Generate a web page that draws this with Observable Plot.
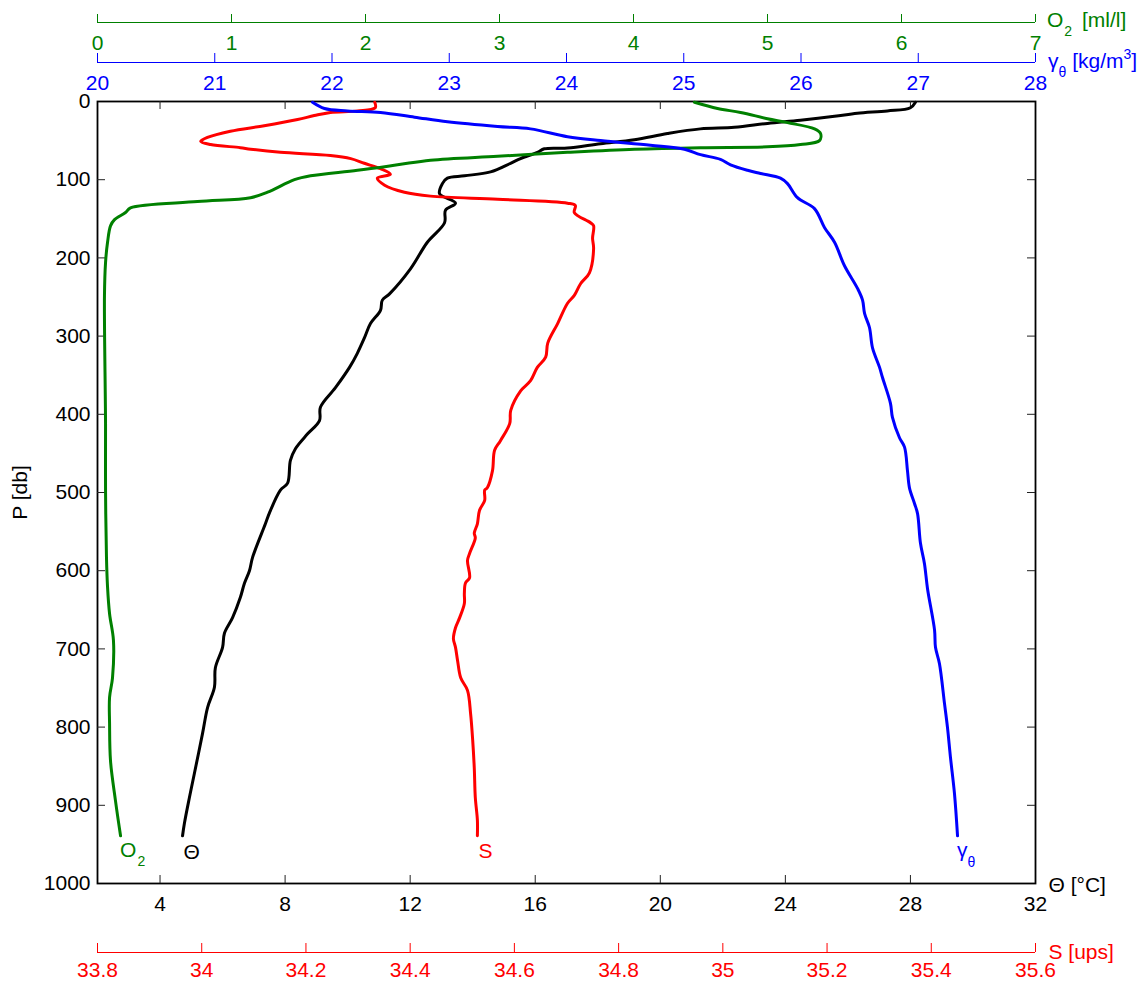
<!DOCTYPE html>
<html><head><meta charset="utf-8">
<script src="https://cdn.jsdelivr.net/npm/d3@7"></script>
<script src="https://cdn.jsdelivr.net/npm/@observablehq/plot@0.6"></script>
<style>
html,body{margin:0;padding:0;background:#fff;overflow:hidden;}
#chart{position:relative;width:1146px;height:982px;}
#chart svg{position:absolute;left:0;top:0;}
</style></head><body><div id="chart"></div>
<script>
// [pressure (db), potential temperature (°C)]
const thetaProfile = [[1,28.16],[8,28.0],[12,27.26],[15,26.30],[19,25.57],[24,24.48],[28,23.43],[33,22.37],[35,21.28],[41,20.23],[49,19.17],[54,18.09],[59.5,17.03],[60.5,16.29],[65,16.07],[73,15.53],[79,15.21],[90,14.57],[95,13.74],[98,13.19],[105,13.03],[118,12.94],[130,13.45],[139,13.13],[155,13.10],[180,12.55],[214,12.01],[246,11.34],[254,11.11],[267,11.05],[284,10.73],[302,10.54],[322,10.31],[340,10.06],[366,9.61],[391,9.13],[408,9.10],[425,8.72],[444,8.33],[459,8.17],[488,8.08],[497,7.85],[526,7.50],[540,7.37],[583,6.96],[600,6.86],[616,6.70],[634,6.57],[660,6.32],[680,6.06],[698,6.00],[724,5.77],[749,5.74],[775,5.52],[808,5.36],[859,5.10],[890,4.94],[923,4.78],[939,4.72]];
// [pressure, salinity (ups)]
const salinityProfile = [[1,34.332],[8,34.333],[12,34.299],[14,34.247],[18,34.216],[23,34.184],[31,34.120],[38,34.055],[46,34.011],[51,33.998],[55,34.017],[59,34.074],[61,34.094],[65,34.151],[69,34.247],[73,34.286],[79,34.312],[86,34.343],[93,34.362],[98,34.337],[107,34.351],[116,34.389],[121,34.439],[125,34.568],[130,34.702],[133,34.717],[142,34.715],[155,34.746],[159,34.752],[175,34.750],[188,34.752],[219,34.744],[233,34.727],[248,34.715],[258,34.702],[284,34.683],[309,34.664],[327,34.660],[340,34.644],[357,34.631],[370,34.612],[395,34.593],[412,34.591],[434,34.573],[446,34.562],[472,34.558],[494,34.548],[497,34.543],[510,34.543],[523,34.533],[540,34.529],[552,34.523],[558,34.525],[578,34.514],[587,34.510],[609,34.514],[616,34.506],[629,34.504],[642,34.504],[660,34.495],[673,34.487],[687,34.483],[698,34.487],[715,34.491],[737,34.497],[753,34.510],[783,34.516],[817,34.520],[852,34.523],[890,34.525],[919,34.529],[939,34.529]];
// [pressure, oxygen (ml/l)]
const oxygenProfile = [[1,4.455],[9,4.627],[14,4.799],[22,5.000],[27,5.149],[35,5.351],[41,5.396],[50,5.388],[55,5.246],[58,5.000],[59,4.500],[61,4.007],[65,3.507],[70,2.985],[75,2.485],[81,2.239],[88,1.940],[95,1.590],[100,1.470],[116,1.269],[123,1.142],[128,0.746],[136,0.246],[142,0.209],[151,0.127],[159,0.097],[180,0.075],[206,0.060],[248,0.052],[412,0.060],[497,0.060],[583,0.067],[621,0.075],[655,0.090],[689,0.119],[737,0.112],[762,0.090],[795,0.090],[843,0.097],[894,0.134],[939,0.172]];
// [pressure, gamma_theta (kg/m3)]
const gammaProfile = [[1,21.834],[9,21.936],[12,22.132],[14,22.414],[20,22.704],[26,22.985],[32,23.412],[35,23.693],[45,24.009],[50,24.290],[56,24.716],[61,25.006],[68,25.143],[74,25.313],[81,25.399],[88,25.544],[92,25.655],[98,25.825],[105,25.885],[123,25.970],[137,26.115],[161,26.200],[180,26.286],[210,26.371],[239,26.482],[254,26.525],[271,26.542],[289,26.584],[315,26.610],[340,26.670],[353,26.695],[386,26.763],[404,26.780],[430,26.840],[442,26.883],[472,26.908],[494,26.925],[514,26.968],[527,26.994],[565,27.019],[591,27.053],[623,27.079],[676,27.139],[698,27.147],[719,27.181],[770,27.224],[800,27.249],[839,27.275],[885,27.309],[939,27.335]];

const thetaTicks = [4, 8, 12, 16, 20, 24, 28, 32];
const thetaInnerTicks = [4, 8, 12, 16, 20, 24, 28];
const pressureTicks = [0, 100, 200, 300, 400, 500, 600, 700, 800, 900, 1000];
const pressureInnerTicks = [100, 200, 300, 400, 500, 600, 700, 800, 900];
const salinityTicks = [33.8, 34, 34.2, 34.4, 34.6, 34.8, 35, 35.2, 35.4, 35.6];
const oxygenTicks = [0, 1, 2, 3, 4, 5, 6, 7];
const gammaTicks = [20, 21, 22, 23, 24, 25, 26, 27, 28];

const thetaDomain = [2, 32], salinityDomain = [33.8, 35.6], oxygenDomain = [0, 7], gammaDomain = [20, 28];

const FONT = "'Liberation Sans', Arial, Helvetica, sans-serif";
const W = 1146, H = 982, MT = 101, MB = 99, ML = 97, MR = 111;
const FW = W - ML - MR, FH = H - MT - MB;
const GREEN = "#008000", BLUE = "#0000ff", RED = "#ff0000";
const CURVE = "catmull-rom";
const toRows = a => a.map(([p, v]) => ({p, v}));

function layer(xDomain, marks, base = false) {
  return Plot.plot({
    width: W, height: H, marginTop: MT, marginBottom: MB, marginLeft: ML, marginRight: MR,
    x: base ? {domain: xDomain} : {domain: xDomain, axis: null},
    y: base ? {domain: [0, 1000], reverse: true} : {domain: [0, 1000], reverse: true, axis: null},
    style: {background: "transparent", fontFamily: FONT, fontSize: "21px", overflow: "visible"},
    marks
  });
}

// parts: [text, baseline offset, font size, extra dx]
function rich(svg, x, y, fill, parts) {
  const t = d3.select(svg).append("text").attr("x", x).attr("y", y).attr("fill", fill)
    .attr("text-anchor", "start").attr("font-family", FONT).attr("font-size", 21);
  let cur = 0;
  for (const [s, off, size, dx] of parts) {
    const ts = t.append("tspan").text(s).attr("font-size", size);
    if (off !== cur) { ts.attr("dy", off - cur); cur = off; }
    if (dx) ts.attr("dx", dx);
  }
}

const thetaRows = toRows(thetaProfile), salRows = toRows(salinityProfile),
      oxyRows = toRows(oxygenProfile), gamRows = toRows(gammaProfile);

const base = layer(thetaDomain, [
  Plot.frame({stroke: "black", strokeWidth: 1.8}),
  Plot.tickX(thetaInnerTicks, {x: d => d, insetBottom: FH - 8, stroke: "#222"}),
  Plot.tickX(thetaInnerTicks, {x: d => d, insetTop: FH - 8, stroke: "#222"}),
  Plot.tickY(pressureInnerTicks, {y: d => d, insetRight: FW - 8, stroke: "#222"}),
  Plot.tickY(pressureInnerTicks, {y: d => d, insetLeft: FW - 8, stroke: "#222"}),
  Plot.axisX(thetaTicks, {anchor: "bottom", tickSize: 0, tickPadding: 13, label: null, tickFormat: d => String(d)}),
  Plot.axisY(pressureTicks, {anchor: "left", tickSize: 0, tickPadding: 7, label: null, tickFormat: d => String(d)}),
  Plot.text(["P [db]"], {text: d => d, frameAnchor: "left", dx: -77, rotate: -90, textAnchor: "middle"}),
  Plot.text(["Θ [°C]"], {text: d => d, frameAnchor: "bottom-right", dx: 13, dy: 2, textAnchor: "start", lineAnchor: "middle"}),
  Plot.line(thetaRows, {x: "v", y: "p", stroke: "black", strokeWidth: 3, curve: CURVE}),
  Plot.text(thetaRows.slice(-1), {x: "v", y: "p", text: () => "Θ", dx: 1, dy: 16, textAnchor: "start", lineAnchor: "middle"})
], true);

const sal = layer(salinityDomain, [
  Plot.line(salRows, {x: "v", y: "p", stroke: RED, strokeWidth: 3, curve: CURVE}),
  Plot.ruleY([1000], {dy: 69, stroke: RED}),
  Plot.tickX(salinityTicks, {x: d => d, insetTop: FH - 9, dy: 69, stroke: RED}),
  Plot.text(salinityTicks, {x: d => d, frameAnchor: "bottom", dy: 87, text: d => String(d), fill: RED, lineAnchor: "middle", textAnchor: "middle"}),
  Plot.text(["S [ups]"], {text: d => d, frameAnchor: "bottom-right", dx: 13, dy: 69, textAnchor: "start", lineAnchor: "middle", fill: RED}),
  Plot.text(salRows.slice(-1), {x: "v", y: "p", text: () => "S", dx: 1, dy: 15, textAnchor: "start", lineAnchor: "middle", fill: RED})
]);

const oxy = layer(oxygenDomain, [
  Plot.line(oxyRows, {x: "v", y: "p", stroke: GREEN, strokeWidth: 3, curve: CURVE}),
  Plot.ruleY([0], {dy: -79, stroke: GREEN}),
  Plot.tickX(oxygenTicks, {x: d => d, insetBottom: FH - 8, dy: -87, stroke: GREEN}),
  Plot.text(oxygenTicks, {x: d => d, frameAnchor: "top", dy: -58, text: d => String(d), fill: GREEN, lineAnchor: "middle", textAnchor: "middle"})
]);

const gam = layer(gammaDomain, [
  Plot.line(gamRows, {x: "v", y: "p", stroke: BLUE, strokeWidth: 3, curve: CURVE}),
  Plot.ruleY([0], {dy: -39, stroke: BLUE}),
  Plot.tickX(gammaTicks, {x: d => d, insetBottom: FH - 9, dy: -48, stroke: BLUE}),
  Plot.text(gammaTicks, {x: d => d, frameAnchor: "top", dy: -18, text: d => String(d), fill: BLUE, lineAnchor: "middle", textAnchor: "middle"})
]);

const chart = document.getElementById("chart");
for (const s of [base, sal, oxy, gam]) chart.appendChild(s);

// labels with subscripts / superscripts
{
  const ox = oxy.scale("x"), oy = oxy.scale("y");
  rich(oxy, ox.range[1] + 12, 27, GREEN, [["O", 0, 21], ["2", 9, 14, 1], [" [ml/l]", 0, 21, 4]]);
  const last = oxyRows[oxyRows.length - 1];
  rich(oxy, ox.apply(last.v), oy.apply(last.p) + 22, GREEN, [["O", 0, 21], ["2", 9, 14, 1]]);
  const gx = gam.scale("x"), gy = gam.scale("y");
  rich(gam, gx.range[1] + 13, 68, BLUE, [["γ", 0, 21], ["θ", 9, 14], [" [kg/m", 0, 21], ["3", -9, 14], ["]", 0, 21]]);
  const gl = gamRows[gamRows.length - 1];
  rich(gam, gx.apply(gl.v), gy.apply(gl.p) + 22, BLUE, [["γ", 0, 21], ["θ", 10, 14]]);
}
</script></body></html>
